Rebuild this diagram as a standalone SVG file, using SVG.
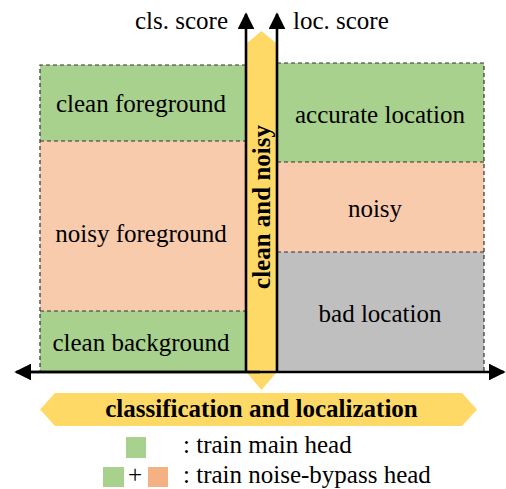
<svg xmlns="http://www.w3.org/2000/svg" width="506" height="489" viewBox="0 0 506 489">
<style>
.dash{fill:none;stroke:#333;stroke-width:1.2;stroke-dasharray:4,3}
.ax{stroke:#000;stroke-width:2.6;fill:none}
.t{font-family:'Times New Roman','Liberation Serif',serif;font-size:25px;fill:#000}
</style>
<defs>
<marker id="ah" viewBox="0 0 10 10" refX="9" refY="5" markerWidth="6.5" markerHeight="6.5" markerUnits="strokeWidth" orient="auto">
<path d="M0,0 L10,5 L0,10 z" fill="#000"/>
</marker>
</defs>
<g id="left-panel">
<rect x="40" y="65" width="206" height="76" fill="#A9D18E"/>
<rect x="40" y="141" width="206" height="170" fill="#F8CBAD"/>
<rect x="40" y="311" width="206" height="61" fill="#A9D18E"/>
<path class="dash" d="M246,65 H40 V372 M40,141 H246 M40,311 H246"/>
</g>
<g id="right-panel">
<rect x="277" y="63" width="207" height="99" fill="#A9D18E"/>
<rect x="277" y="162" width="207" height="90" fill="#F8CBAD"/>
<rect x="277" y="252" width="207" height="120" fill="#BFBFBF"/>
<path class="dash" d="M277,63 H484 V372 M277,162 H484 M277,252 H484"/>
</g>
<g id="yellow-band">
<polygon points="247,43 261.5,31 276,43 276,373 261.5,390 247,373" fill="#FFD966"/>
<text class="t" font-weight="bold" text-anchor="middle" transform="translate(270,207) rotate(-90)">clean and noisy</text>
</g>
<g id="labels">
<text class="t" text-anchor="middle" x="141" y="112">clean foreground</text>
<text class="t" text-anchor="middle" x="141" y="242">noisy foreground</text>
<text class="t" text-anchor="middle" x="141" y="351">clean background</text>
<text class="t" text-anchor="middle" x="380" y="123">accurate location</text>
<text class="t" text-anchor="middle" x="375" y="217">noisy</text>
<text class="t" text-anchor="middle" x="380" y="322">bad location</text>
<text class="t" x="228" y="29" text-anchor="end">cls. score</text>
<text class="t" x="293" y="29">loc. score</text>
</g>
<g id="connectors">
<line class="ax" x1="246" y1="373" x2="246" y2="14" marker-end="url(#ah)"/>
<line class="ax" x1="277" y1="373" x2="277" y2="14" marker-end="url(#ah)"/>
<line class="ax" x1="30" y1="372" x2="504" y2="372" marker-end="url(#ah)"/>
<line class="ax" x1="260" y1="372" x2="16" y2="372" marker-end="url(#ah)"/>
</g>
<g id="bottom-banner">
<polygon points="40,409.5 55,393 462,393 477,409.5 462,426 55,426" fill="#FFD966"/>
<text class="t" font-weight="bold" text-anchor="middle" x="261.5" y="417">classification and localization</text>
</g>
<g id="legend">
<rect x="126" y="437" width="20" height="21" fill="#A9D18E"/>
<text class="t" x="183" y="453">: train main head</text>
<rect x="103" y="467" width="21" height="20" fill="#A9D18E"/>
<text class="t" text-anchor="middle" x="135" y="483">+</text>
<rect x="148" y="467" width="20" height="20" fill="#F4B183"/>
<text class="t" x="183" y="483">: train noise-bypass head</text>
</g>
</svg>
